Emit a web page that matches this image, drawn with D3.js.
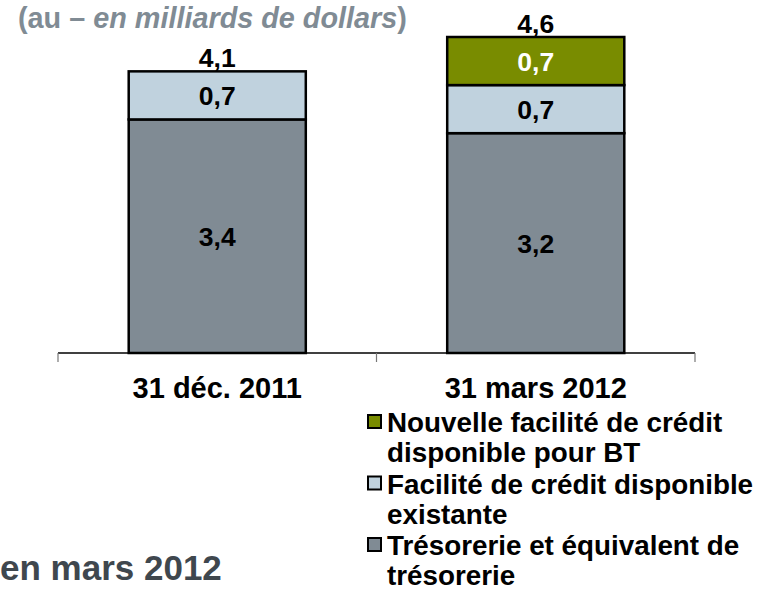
<!DOCTYPE html>
<html>
<head>
<meta charset="utf-8">
<script src="https://cdn.jsdelivr.net/npm/d3@7"></script>
<style>
  html, body { margin: 0; padding: 0; background: #fff; }
  svg { display: block; font-family: "Liberation Sans", Arial, sans-serif; }
</style>
</head>
<body>
<svg id="chart" width="769" height="591"></svg>
<script>
// ---- data ----
const categories = ["31 déc. 2011", "31 mars 2012"];
const seriesNames = ["Trésorerie et équivalent de trésorerie", "Facilité de crédit disponible existante", "Nouvelle facilité de crédit disponible pour BT"];
const tresorerie = [3.4, 3.2];
const faciliteExistante = [0.7, 0.7];
const nouvelleFacilite = [0, 0.7];
const totals = ["4,1", "4,6"];
const legendLines = [
  ["Nouvelle facilité de crédit", "disponible pour BT"],
  ["Facilité de crédit disponible", "existante"],
  ["Trésorerie et équivalent de", "trésorerie"]
];
const titleParts = ["(au – ", "en milliards de dollars", ")"];
const footerText = "en mars 2012";

const colors = ["#808b94", "#c0d2de", "#798c00"];
const labelColors = ["#000", "#000", "#fff"];
const fmt = v => d3.format(".1f")(v).replace(".", ",");

const svg = d3.select("#chart");
const x = d3.scaleBand().domain(categories).range([58, 695]).padding(0);
const y = d3.scaleLinear().domain([0, 4.6]).range([353, 37]);
const barW = x.bandwidth() * 0.556;

// stacked data
const rows = categories.map((c, i) => ({cat: c, s0: tresorerie[i], s1: faciliteExistante[i], s2: nouvelleFacilite[i]}));
const stack = d3.stack().keys(["s0", "s1", "s2"])(rows);

// title
const title = svg.append("text").attr("x", 18).attr("y", 28)
  .attr("font-size", 28.8).attr("font-weight", "bold").attr("fill", "#808b94");
title.append("tspan").text(titleParts[0]);
title.append("tspan").attr("font-style", "italic").text(titleParts[1]);
title.append("tspan").text(titleParts[2]);

// bars
stack.forEach((layer, k) => {
  const g = svg.append("g");
  layer.forEach((d, i) => {
    if (d[1] - d[0] <= 0) return;
    const cx = x(categories[i]) + x.bandwidth() / 2;
    g.append("rect")
      .attr("x", cx - barW / 2).attr("y", y(d[1]))
      .attr("width", barW).attr("height", y(d[0]) - y(d[1]))
      .attr("fill", colors[k]).attr("stroke", "#000").attr("stroke-width", 2.5);
    g.append("text")
      .attr("x", cx).attr("y", (y(d[0]) + y(d[1])) / 2 + 9.5)
      .attr("text-anchor", "middle").attr("font-size", 26.5).attr("font-weight", "bold")
      .attr("fill", labelColors[k]).text(fmt(d[1] - d[0]));
  });
});

// totals
categories.forEach((c, i) => {
  const top = tresorerie[i] + faciliteExistante[i] + nouvelleFacilite[i];
  svg.append("text")
    .attr("x", x(c) + x.bandwidth() / 2).attr("y", y(top) - 4)
    .attr("text-anchor", "middle").attr("font-size", 26.5).attr("font-weight", "bold")
    .attr("fill", "#000").text(totals[i]);
});

// axis
const axis = svg.append("g");
axis.append("line").attr("x1", x.range()[0]).attr("x2", x.range()[1])
  .attr("y1", y(0)).attr("y2", y(0)).attr("stroke", "#000").attr("stroke-width", 1.5);
const tickXs = [x(categories[0]), x(categories[1]), x(categories[1]) + x.bandwidth()];
tickXs.forEach(t => axis.append("line").attr("x1", t).attr("x2", t)
  .attr("y1", y(0)).attr("y2", y(0) + 9).attr("stroke", "#777").attr("stroke-width", 1.2));
categories.forEach(c => axis.append("text")
  .attr("x", x(c) + x.bandwidth() / 2).attr("y", 398)
  .attr("text-anchor", "middle").attr("font-size", 29).attr("font-weight", "bold")
  .attr("fill", "#000").text(c));

// legend
const legendColors = [colors[2], colors[1], colors[0]];
const baselines = [432, 493.5, 555];
legendLines.forEach((lines, i) => {
  const g = svg.append("g");
  g.append("rect").attr("x", 368).attr("y", baselines[i] - 17).attr("width", 13).attr("height", 13)
    .attr("fill", legendColors[i]).attr("stroke", "#000").attr("stroke-width", 2);
  lines.forEach((ln, j) => g.append("text")
    .attr("x", 387).attr("y", baselines[i] + j * 30)
    .attr("font-size", 27.8).attr("font-weight", "bold").attr("fill", "#000").text(ln));
});

// footer
svg.append("text").attr("x", 0).attr("y", 580)
  .attr("font-size", 35).attr("font-weight", "bold").attr("fill", "#3f474e").text(footerText);
</script>
</body>
</html>
